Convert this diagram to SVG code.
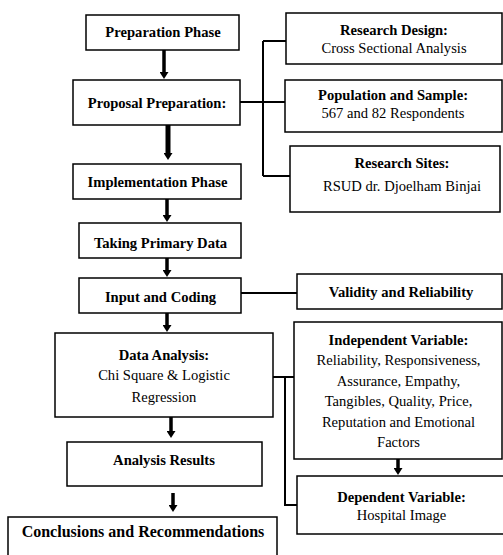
<svg xmlns="http://www.w3.org/2000/svg" width="503" height="555" viewBox="0 0 503 555">
<style>
.box{fill:#fff;stroke:#000;stroke-width:1.5}
.b{font-family:"Liberation Serif","Times New Roman",serif;font-weight:bold;font-size:14.6px;text-anchor:middle;fill:#000}
.r{font-family:"Liberation Serif","Times New Roman",serif;font-size:14.6px;text-anchor:middle;fill:#000}
.ln{fill:none;stroke:#000;stroke-width:2}
.ar{fill:none;stroke:#000;stroke-width:3.5}
</style>
<defs>
<marker id="ah" markerUnits="userSpaceOnUse" markerWidth="9" markerHeight="8" refX="4.5" refY="1" viewBox="0 0 9 8">
<path d="M0,0 L9,0 L4.5,7 Z" fill="#000"/>
</marker>
</defs>
<rect width="503" height="555" fill="#fff"/>
<g id="connectors">
<line class="ar" x1="164" y1="50" x2="164" y2="73" marker-end="url(#ah)"/>
<line class="ar" x1="168" y1="125" x2="168" y2="154" marker-end="url(#ah)" style="stroke-width:5"/>
<line class="ar" x1="167" y1="199" x2="167" y2="216" marker-end="url(#ah)"/>
<line class="ar" x1="167" y1="258" x2="167" y2="271" marker-end="url(#ah)"/>
<line class="ar" x1="167" y1="313" x2="167" y2="326" marker-end="url(#ah)"/>
<line class="ar" x1="171" y1="417" x2="171" y2="432" marker-end="url(#ah)"/>
<line class="ar" x1="173" y1="493" x2="173" y2="506" marker-end="url(#ah)"/>
<line class="ar" x1="398" y1="459" x2="398" y2="469" marker-end="url(#ah)"/>
<path class="ln" d="M240,102 H285 M263,41 V176 M263,41 H286 M263,176 H290"/>
<path class="ln" d="M241,293 H297"/>
<path class="ln" d="M273,377 H294 M285,377 V505 H297"/>
</g>
<g id="preparation-phase"><rect class="box" x="86" y="15" width="153" height="35"/><text class="b" x="163" y="37">Preparation Phase</text></g>
<g id="proposal-preparation"><rect class="box" x="73" y="80" width="167" height="45"/><text class="b" x="157" y="108">Proposal Preparation:</text></g>
<g id="implementation-phase"><rect class="box" x="73" y="164" width="168" height="35"/><text class="b" x="157.5" y="187">Implementation Phase</text></g>
<g id="research-design"><rect class="box" x="286" y="13" width="216" height="51"/><text class="b" x="394" y="35">Research Design:</text><text class="r" x="394" y="53">Cross Sectional Analysis</text></g>
<g id="population-sample"><rect class="box" x="285" y="80" width="217" height="52"/><text class="b" x="393" y="100">Population and Sample:</text><text class="r" x="393" y="118">567 and 82 Respondents</text></g>
<g id="research-sites"><rect class="box" x="290" y="146" width="210" height="66"/><text class="b" x="402" y="168">Research Sites:</text><text class="r" x="402" y="191">RSUD dr. Djoelham Binjai</text></g>
<g id="taking-primary-data"><rect class="box" x="79" y="223" width="162" height="35"/><text class="b" x="160.5" y="248">Taking Primary Data</text></g>
<g id="input-coding"><rect class="box" x="79" y="278" width="162" height="35"/><text class="b" x="160.5" y="302">Input and Coding</text></g>
<g id="validity-reliability"><rect class="box" x="297" y="274" width="205" height="35"/><text class="b" x="401" y="297">Validity and Reliability</text></g>
<g id="data-analysis"><rect class="box" x="55" y="333" width="218" height="84"/><text class="b" x="164" y="360">Data Analysis:</text><text class="r" x="164" y="380">Chi Square &amp; Logistic</text><text class="r" x="164" y="402">Regression</text></g>
<g id="independent-variable"><rect class="box" x="294" y="322" width="208" height="137"/><text class="b" x="398.5" y="345">Independent Variable:</text><text class="r" x="398.5" y="365">Reliability, Responsiveness,</text><text class="r" x="398.5" y="386">Assurance, Empathy,</text><text class="r" x="398.5" y="406">Tangibles, Quality, Price,</text><text class="r" x="398.5" y="427">Reputation and Emotional</text><text class="r" x="398.5" y="447">Factors</text></g>
<g id="dependent-variable"><rect class="box" x="297" y="476" width="207" height="58"/><text class="b" x="401.5" y="502">Dependent Variable:</text><text class="r" x="401.5" y="520">Hospital Image</text></g>
<g id="analysis-results"><rect class="box" x="67" y="442" width="195" height="44"/><text class="b" x="164" y="465">Analysis Results</text></g>
<g id="conclusions"><rect class="box" x="8" y="517" width="269" height="45"/><text class="b" x="143" y="537" style="font-size:16px">Conclusions and Recommendations</text></g>
</svg>
